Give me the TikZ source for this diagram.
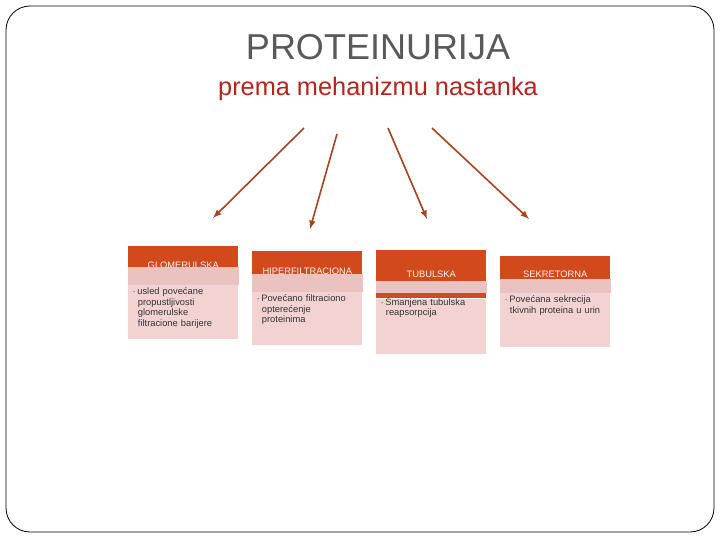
\documentclass[tikz,border=0pt]{standalone}
\usepackage{fontspec}
\setmainfont{Liberation Sans}
\usetikzlibrary{calc}
\definecolor{rouille}{HTML}{D24A1C}
\definecolor{rose}{HTML}{F2D3D1}
\definecolor{bande}{HTML}{EAC3C1}
\definecolor{fleche}{HTML}{A8431E}
\definecolor{titrerouge}{HTML}{B8231B}
\tikzstyle{entete} = [rectangle, fill=rouille, anchor=north west, minimum width=82.5pt, text width=80pt, align=center, text=white!92!gray, font=\fontsize{7}{8}\selectfont, inner sep=1pt]
\tikzstyle{corps} = [rectangle, fill=rose, anchor=north west, minimum width=82.5pt, text width=76pt, align=left, text=black!80, font=\fontsize{7}{8}\selectfont, inner sep=2pt]
\tikzstyle{fl} = [draw=fleche, line width=1.2pt, -latex]

\begin{document}
\begin{tikzpicture}[x=0.75pt, y=-0.75pt]
        \useasboundingbox (0,0) rectangle (720,540);
        \draw[rounded corners=18pt, line width=0.6pt] (6,6) rectangle (714,532);

        \node (T) [font=\fontsize{27}{30}\selectfont, text=black!65] at (378,47) {PROTEINURIJA};
        \node (ST) [font=\fontsize{19}{22}\selectfont, text=titrerouge] at (378,89) {prema mehanizmu nastanka};

        % en-tetes
        \node (H1) [entete, minimum height=28.5pt] at (128,246) {GLOMERULSKA};
        \node (H2) [entete, minimum height=30pt] at (252,251) {HIPERFILTRACIONA};
        \node (H3) [entete, minimum height=36pt] at (376,250) {TUBULSKA};
        \node (H4) [entete, minimum height=27pt] at (500,256) {SEKRETORNA};

        % corps
        \node (B1) [corps, minimum height=40.5pt] at (H1.south west) {};
        \fill[bande] (B1.north west) rectangle ($(B1.north east)+(0,-18)$);
        \node [corps, fill=none, anchor=north west] at (B1.north west) {$\cdot$\,usled povećane\\\hspace{4pt}propustljivosti\\\hspace{4pt}glomerulske\\\hspace{4pt}filtracione barijere};

        \node (B2) [corps, minimum height=39.75pt] at (H2.south west) {};
        \fill[bande] (B2.north west) rectangle ($(B2.north east)+(0,-18)$);
        \node [corps, fill=none, anchor=north west] at (B2.north west) {$\cdot$\,Povećano filtraciono\\\hspace{4pt}opterećenje\\\hspace{4pt}proteinima};

        \node (B3) [corps, minimum height=41.25pt] at (H3.south west) {};
        \fill[bande] ($(B3.north west)+(0,-6)$) rectangle ($(B3.north east)+(0,-18)$);
        \node [corps, fill=none, anchor=north west] at ($(B3.north west)+(0,-3)$) {$\cdot$\,Smanjena tubulska\\\hspace{4pt}reapsorpcija};

        \node (B4) [corps, minimum height=40.5pt] at (H4.south west) {};
        \fill[bande] (B4.north west) rectangle ($(B4.north east)+(0,-14)$);
        \node [corps, fill=none, anchor=north west] at (B4.north west) {$\cdot$\,Povećana sekrecija\\\hspace{4pt}tkivnih proteina u urin};

        % fleches
        \coordinate (A1) at (304,128);
        \coordinate (A2) at (337,134);
        \coordinate (A3) at (388,128);
        \coordinate (A4) at (432,128);
        \coordinate (E1) at (213,218);
        \coordinate (E2) at (310,229);
        \coordinate (E3) at (427,219);
        \coordinate (E4) at (529,219);
        \draw[fl] (A1) -- (E1);
        \draw[fl] (A2) -- (E2);
        \draw[fl] (A3) -- (E3);
        \draw[fl] (A4) -- (E4);

    \end{tikzpicture}
\end{document}
